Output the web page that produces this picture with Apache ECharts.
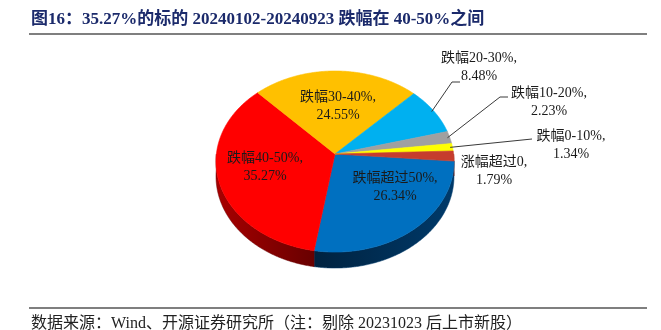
<!DOCTYPE html>
<html><head><meta charset="utf-8">
<script src="https://cdn.jsdelivr.net/npm/echarts@6/dist/echarts.min.js"></script>
<style>html,body{margin:0;padding:0;background:#fff}#c{width:661px;height:330px}</style>
</head><body><div id="c"></div>
<script>
// ---- data ----
const categories = ['跌幅超过50%', '跌幅40-50%', '跌幅30-40%', '跌幅20-30%', '跌幅10-20%', '跌幅0-10%', '涨幅超过0'];
const values = [26.34, 35.27, 24.55, 8.48, 2.23, 1.34, 1.79];
const titleText = '图16：35.27%的标的 20240102-20240923 跌幅在 40-50%之间';
const sourceText = '数据来源：Wind、开源证券研究所（注：剔除 20231023 后上市新股）';

// ---- styles / layout ----
const topColors = ['#0070C0', '#FF0000', '#FFC000', '#00B0F0', '#A0A0A0', '#FFFF00', '#C63D2D'];
const sideColors = [['#003A6A', '#00223F'], ['#680000', '#A80000'], ['#9A7400', '#C09000'], ['#006C94', '#008AB8'],
                    ['#5E5E5E', '#707070'], ['#9A9A00', '#B0B000'], ['#7E2418', '#90281C']];
const PIE = {cx: 335, cy: 154, rx: 118.6, ry: 89.9, persp: 0.083, depth: 14.7, startDeg: 4.5};
const FONT = '"Liberation Serif", "Noto Sans CJK SC", serif';
const labelLayout = [
  {x: 395, y: 187.5},
  {x: 265, y: 167.5},
  {x: 338, y: 106},
  {x: 479, y: 67, elbow: [452, 82], tail: 8},
  {x: 549, y: 102, elbow: [500, 97], tail: 8},
  {x: 571, y: 145.5, elbow: [532, 139], tail: 0},
  {x: 494, y: 171}
];

const total = values.reduce((a, b) => a + b, 0);
const angles = [];
(function () {
  let acc = PIE.startDeg;
  values.forEach(v => { const sweep = v / total * 360; angles.push([acc, acc + sweep]); acc += sweep; });
})();

function proj(f, deg, drop) {
  const t = deg * Math.PI / 180;
  const X = f * Math.cos(t), Z = f * Math.sin(t);
  const w = 1 - PIE.persp * Z;
  return [PIE.cx + PIE.rx * X / w, PIE.cy + PIE.ry * Z / w + (drop ? PIE.depth / w : 0)];
}
function arc(a0, a1, drop) {
  const pts = [];
  const n = Math.max(2, Math.ceil((a1 - a0) / 0.5));
  for (let k = 0; k <= n; k++) pts.push(proj(1, a0 + (a1 - a0) * k / n, drop));
  return pts;
}

function renderSide(params) {
  const i = params.dataIndex;
  const [a0, a1] = angles[i];
  const children = [];
  [0, 360].forEach(base => {
    const s = Math.max(a0, base), e = Math.min(a1, base + 180);
    if (e > s) {
      const top = arc(s, e, false);
      const bottom = arc(s, e, true).reverse();
      children.push({
        type: 'polygon',
        shape: {points: top.concat(bottom)},
        style: {
          fill: new echarts.graphic.LinearGradient(1, 0, 0, 0, [
            {offset: 0, color: sideColors[i][0]}, {offset: 1, color: sideColors[i][1]}]),
          stroke: sideColors[i][0], lineWidth: 0.5
        }
      });
    }
  });
  return {type: 'group', children};
}

function renderTop(params) {
  const i = params.dataIndex;
  const [a0, a1] = angles[i];
  const pts = [[PIE.cx, PIE.cy]].concat(arc(a0, a1, false));
  const children = [{
    type: 'polygon', shape: {points: pts},
    style: {fill: topColors[i], stroke: topColors[i], lineWidth: 0.6}
  }];
  const L = labelLayout[i];
  if (L.elbow) {
    const mid = (a0 + a1) / 2;
    const anchor = proj(0.98, mid, false);
    children.push({
      type: 'polyline',
      shape: {points: [anchor, L.elbow, [L.elbow[0] + L.tail, L.elbow[1]]]},
      style: {stroke: '#3A3A3A', lineWidth: 1, fill: null}
    });
  }
  children.push({
    type: 'text',
    style: {
      text: categories[i] + ',\n' + values[i].toFixed(2) + '%',
      x: L.x, y: L.y, align: 'center', verticalAlign: 'middle',
      fontSize: 14, lineHeight: 18, fontFamily: FONT, fill: '#1A1A1A'
    }
  });
  return {type: 'group', children};
}

const chart = echarts.init(document.getElementById('c'), null, {renderer: 'canvas'});
chart.setOption({
  animation: false,
  backgroundColor: '#ffffff',
  title: {
    text: titleText, left: 31, top: 11, padding: 0,
    textStyle: {fontSize: 17, lineHeight: 18, fontWeight: 'bold', color: '#1B2A6B', fontFamily: FONT}
  },
  graphic: [
    {type: 'line', shape: {x1: 29, y1: 34, x2: 647, y2: 34}, style: {stroke: '#7F7F7F', lineWidth: 2}},
    {type: 'line', shape: {x1: 29, y1: 308, x2: 647, y2: 308}, style: {stroke: '#7F7F7F', lineWidth: 2}},
    {type: 'text', x: 31, y: 324, style: {text: sourceText, fontSize: 16, fontFamily: FONT, fill: '#222', verticalAlign: 'middle'}}
  ],
  series: [
    {type: 'custom', coordinateSystem: 'none', renderItem: renderSide, data: values, z: 1, silent: true},
    {type: 'custom', coordinateSystem: 'none', renderItem: renderTop, data: values, z: 2, silent: true}
  ]
});
</script>
</body></html>
